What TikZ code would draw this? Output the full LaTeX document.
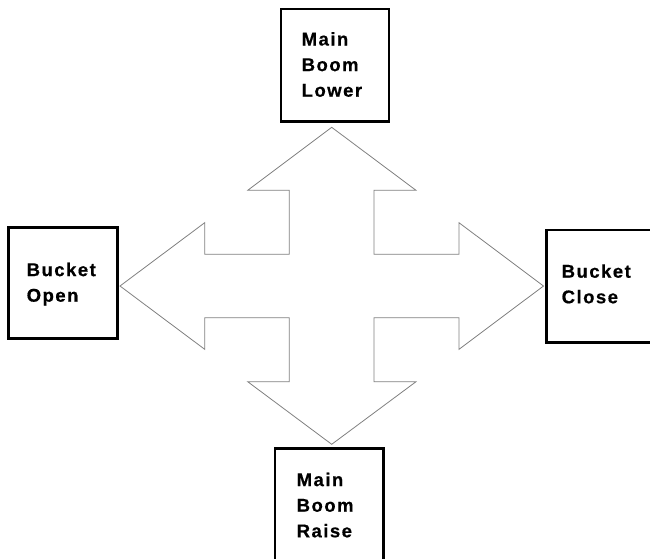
\documentclass[tikz,border=0pt]{standalone}
\usepackage{fontspec}
\setmainfont{Liberation Sans}[LetterSpace=8,BoldFeatures={FakeBold=0.6}]
\begin{document}
\begin{tikzpicture}[x=1pt,y=-1pt,
  boxstyle/.style={draw=black,line width=2.2pt,fill=white},
  labelstyle/.style={inner sep=0pt,anchor=base west,align=left,
    font=\fontsize{18.5}{25.6}\selectfont\bfseries},
  arrowshape/.style={draw=black!50,line width=0.8pt,fill=white,line join=miter}]
\useasboundingbox (0,0) rectangle (650,558);
% cross arrow
\draw[arrowshape]
  (331.7,127.3) -- (416,190.3) -- (374,190.3) -- (374,254.3) -- (459,254.3)
  -- (459,222.7) -- (543.5,286) -- (459,349.3) -- (459,317.7) -- (374,317.7)
  -- (374,381.7) -- (416,381.7) -- (331.7,444.3) -- (247.7,381.7)
  -- (289.3,381.7) -- (289.3,317.7) -- (204.7,317.7) -- (204.7,349.3)
  -- (120,286) -- (204.7,222.7) -- (204.7,254.3) -- (289.3,254.3)
  -- (289.3,190.3) -- (247.7,190.3) -- cycle;
% boxes
\draw[boxstyle] (281,9) rectangle (389,121.5);
\draw[boxstyle] (8.5,227.5) rectangle (117.5,338.5);
\draw[boxstyle] (546.5,230) rectangle (656,342.5);
\draw[boxstyle] (275,448.5) rectangle (383.5,562);
% labels (anchored at the baseline of the last line)
\node[labelstyle] (lower) at (301.5,96.7) {Main\\Boom\\Lower};
\node[labelstyle] (open) at (26.5,301.7) {Bucket\\Open};
\node[labelstyle] (close) at (561.5,303.3) {Bucket\\Close};
\node[labelstyle] (raise) at (296.5,537.3) {Main\\Boom\\Raise};
\end{tikzpicture}
\end{document}
